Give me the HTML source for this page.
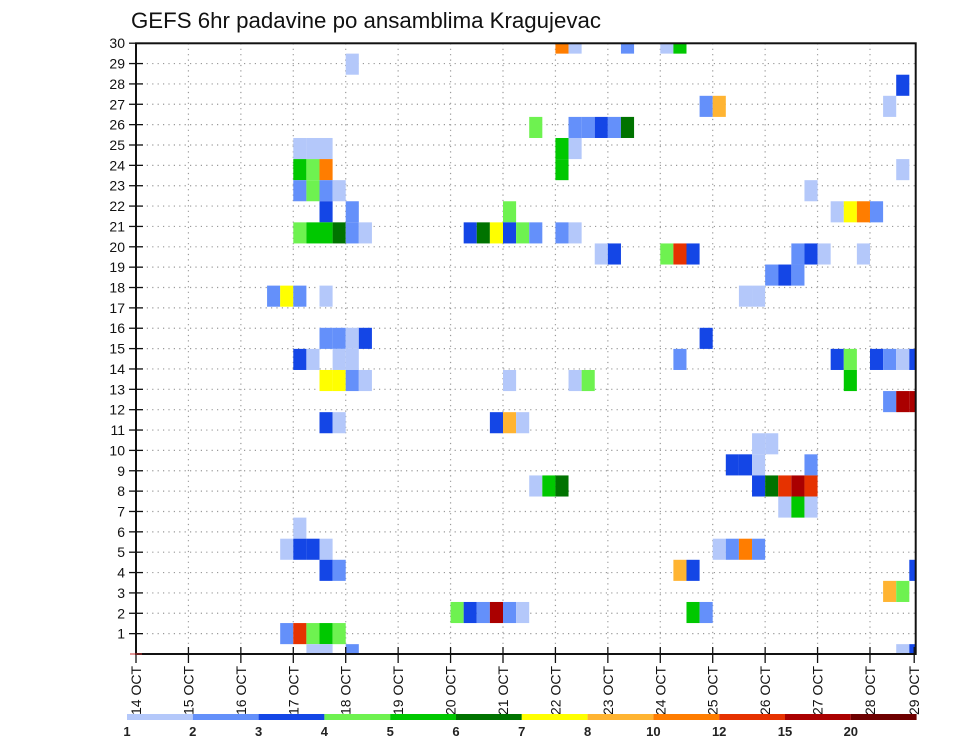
<!DOCTYPE html>
<html><head><meta charset="utf-8"><style>
html,body{margin:0;padding:0;background:#fff;}
svg{display:block;font-family:"Liberation Sans",sans-serif;}
</style></head><body>
<svg id="chart" width="960" height="742" viewBox="0 0 960 742" xmlns="http://www.w3.org/2000/svg">
<text x="131" y="28" font-size="22" textLength="470" lengthAdjust="spacingAndGlyphs" fill="#111">GEFS 6hr padavine po ansamblima Kragujevac</text>
<defs><clipPath id="plotclip"><rect x="136" y="43.3" width="779.7" height="610.7"/></clipPath></defs>
<g id="grid"></g>
<g id="cells" clip-path="url(#plotclip)"></g>
<rect x="136" y="43.3" width="779.7" height="610.7" fill="none" stroke="#111" stroke-width="2"/>
<g id="axes"></g>
<g id="legend"></g>
</svg>
<script>
// ---- data ----
const members = [29,29,29,29,29, 28, 27, 26,26,26, 25,25,25,25,25,25, 24,24,24,24,24, 23,23,23,23,23, 22,22,22,22,22, 21,21,21,21,21,21,21,
 20,20,20,20,20,20,20,20,20,20,20,20,20,20, 19,19,19,19,19,19,19,19,19, 18,18,18, 17,17,17,17,17,17, 15,15,15,15,15,
 14,14,14,14,14,14,14,14,14,14,14, 13,13,13,13,13,13,13,13, 12,12,12, 11,11,11,11,11, 10,10, 9,9,9,9,
 8,8,8,8,8,8,8,8, 7,7,7, 6, 5,5,5,5,5,5,5,5, 4,4,4,4,4, 3,3, 2,2,2,2,2,2,2,2, 1,1,1,1,1, 0,0,0,0,0];
const steps = [32,33,37,40,41, 16, 58, 43,44,57, 30,33,34,35,36,37, 12,13,14,32,33, 12,13,14,32,58, 12,13,14,15,51, 14,16,28,53,54,55,56,
 12,13,14,15,16,17,25,26,27,28,29,30,32,33, 35,36,40,41,42,50,51,52,55, 48,49,50, 10,11,12,14,46,47, 14,15,16,17,43,
 12,13,15,16,41,53,54,56,57,58,59, 14,15,16,17,28,33,34,54, 57,58,59, 14,15,27,28,29, 47,48, 45,46,47,51,
 30,31,32,47,48,49,50,51, 49,50,51, 12, 11,12,13,14,44,45,46,47, 14,15,41,42,59, 57,58, 24,25,26,27,28,29,42,43, 11,12,13,14,15, 13,14,16,58,59];
const values = [11,1.5,2.5,1.5,5.5, 1.5, 3.5, 2.5,9,1.5, 4.5,2.5,2.5,3.5,2.5,6.5, 1.5,1.5,1.5,5.5,1.5, 5.5,4.5,11,5.5,1.5, 2.5,4.5,2.5,1.5,1.5, 3.5,2.5,4.5,1.5,7.5,11,2.5,
 4.5,5.5,5.5,6.5,2.5,1.5,3.5,6.5,7.5,3.5,4.5,2.5,2.5,1.5, 1.5,3.5,4.5,13,3.5,2.5,3.5,1.5,1.5, 2.5,3.5,2.5, 2.5,7.5,2.5,1.5,1.5,1.5, 2.5,2.5,1.5,3.5,3.5,
 3.5,1.5,1.5,1.5,2.5,3.5,4.5,3.5,2.5,1.5,3.5, 7.5,7.5,2.5,1.5,1.5,1.5,4.5,5.5, 2.5,17,17, 3.5,1.5,3.5,9,1.5, 1.5,1.5, 3.5,3.5,1.5,2.5,
 1.5,5.5,6.5,3.5,6.5,13,17,13, 1.5,5.5,1.5, 1.5, 1.5,3.5,3.5,1.5,1.5,2.5,11,2.5, 3.5,2.5,9,3.5,3.5, 9,4.5, 4.5,3.5,2.5,17,2.5,1.5,5.5,2.5, 2.5,13,4.5,5.5,4.5, 1.5,1.5,2.5,1.5,3.5];
const levels = [1,2,3,4,5,6,7,8,10,12,15,20];
const levelLabels = ["1","2","3","4","5","6","7","8","10","12","15","20"];
const levelColors = ["#b4c8fa","#6490fa","#1446e6","#6ef250","#00c800","#007300","#ffff00","#ffb432","#ff7d00","#e63200","#aa0000","#6e0000"];
const dayLabels = ["14 OCT","15 OCT","16 OCT","17 OCT","18 OCT","19 OCT","20 OCT","21 OCT","22 OCT","23 OCT","24 OCT","25 OCT","26 OCT","27 OCT","28 OCT","29 OCT"];
const yTicks = [1,2,3,4,5,6,7,8,9,10,11,12,13,14,15,16,17,18,19,20,21,22,23,24,25,26,27,28,29,30];

// ---- axis functions ----
const X0 = 136, STEP = 13.107, XR = 915.7;
function xStep(i){ return X0 + STEP*i; }
function xDay(d){ return X0 + STEP*4*d; }
function yAxis(v){ return 654 - 20.36*v; }
const CELLH = 21.09;
function yMember(r){ return 633.6 - (r-1)*CELLH; }
function colorFor(v){ let c = levelColors[0]; for(let k=0;k<levels.length;k++){ if(v>=levels[k]) c=levelColors[k]; } return c; }

const NS = "http://www.w3.org/2000/svg";
function mk(tag, attrs, parent){ const e=document.createElementNS(NS,tag); for(const k in attrs) e.setAttribute(k,attrs[k]); parent.appendChild(e); return e; }

const grid = document.getElementById("grid");
for(let n=1;n<30;n++){
  const ln = mk("line",{x1:X0,x2:XR,y1:yAxis(n),y2:yAxis(n),stroke:"#999","stroke-width":1.2,"stroke-dasharray":"1.2 4.2"},grid);
  
  
}
for(let d=1;d<15;d++){
  const ln = mk("line",{x1:xDay(d),x2:xDay(d),y1:43.3,y2:654,stroke:"#999","stroke-width":1.2,"stroke-dasharray":"1.2 4.2"},grid);
  
  
}

const cells = document.getElementById("cells");
for(let k=0;k<values.length;k++){
  const cx = xStep(steps[k]), cy = yMember(members[k]);
  const r = mk("rect",{x:cx.toFixed(2),y:(cy-CELLH/2).toFixed(2),width:STEP.toFixed(2),height:CELLH.toFixed(2),fill:colorFor(values[k])},cells);
  
  
}

const axes = document.getElementById("axes");
yTicks.forEach(v=>{
  const y = yAxis(v);
  const t = mk("line",{x1:129,x2:143,y1:y,y2:y,stroke:"#111","stroke-width":1.3},axes);
  
  
  const tx = mk("text",{x:125,y:y+5,"font-size":14,"text-anchor":"end",fill:"#111"},axes);
  tx.textContent = v;
  
  
});
dayLabels.forEach((lab,d)=>{
  let x = xDay(d); if(x>XR) x = XR-1.5;
  const t = mk("line",{x1:x,x2:x,y1:647,y2:663,stroke:"#111","stroke-width":1.3},axes);
  
  
  const tx = mk("text",{transform:`translate(${(x+5).toFixed(1)},666) rotate(-90)`,"font-size":14,"text-anchor":"end",fill:"#111"},axes);
  tx.textContent = lab;
  
  
});
const red = mk("line",{x1:130,x2:142,y1:654,y2:654,stroke:"#c33","stroke-width":1},axes);



const legend = document.getElementById("legend");
const LX = 127, LW = 65.8;
levelColors.forEach((c,k)=>{
  const r = mk("rect",{x:(LX+LW*k).toFixed(2),y:714,width:LW.toFixed(2),height:6,fill:c},legend);
  
  
});
levelLabels.forEach((lab,k)=>{
  const tx = mk("text",{x:(LX+LW*k).toFixed(1),y:736,"font-size":13,"font-weight":"bold","text-anchor":"middle",fill:"#222"},legend);
  tx.textContent = lab;
  
  
});
</script>
</body></html>
